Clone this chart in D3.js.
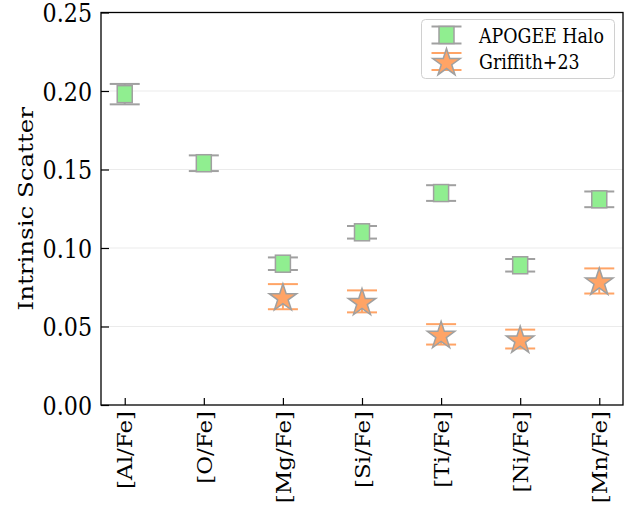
<!DOCTYPE html>
<html>
<head>
<meta charset="utf-8">
<script src="https://cdn.jsdelivr.net/npm/d3@7"></script>
<style>
  html, body { margin: 0; padding: 0; background: #fff; }
  svg { display: block; }
  text { font-family: "DejaVu Serif", serif; fill: #000; }
</style>
</head>
<body>
<svg id="chart" width="633" height="505"></svg>
<script>
// Abundance ratios along the x axis
const categories = ["[Al/Fe]", "[O/Fe]", "[Mg/Fe]", "[Si/Fe]", "[Ti/Fe]", "[Ni/Fe]", "[Mn/Fe]"];

// APOGEE halo intrinsic scatter and its uncertainty
const apogeeScatter = [0.198, 0.154, 0.090, 0.110, 0.135, 0.089, 0.131];
const apogeeErr     = [0.0065, 0.005, 0.004, 0.004, 0.005, 0.004, 0.005];

// Griffith+23 values (no Al or O measurements)
const griffithScatter = [null, null, 0.069, 0.066, 0.045, 0.042, 0.079];
const griffithErr     = [null, null, 0.008, 0.007, 0.0065, 0.006, 0.008];

const yTicks = [0.00, 0.05, 0.10, 0.15, 0.20, 0.25];
const seriesNames = ["APOGEE Halo", "Griffith+23"];

const svg = d3.select("#chart");
const m = { left: 101, right: 623, top: 12.5, bottom: 405 };
const sx = 0.87; // horizontal compression applied to all text

const x = d3.scaleLinear().domain([-0.3, categories.length - 0.7]).range([m.left, m.right]);
const y = d3.scaleLinear().domain([0, 0.25]).range([m.bottom, m.top]);

// horizontal grid
svg.append("g").selectAll("line").data(yTicks.slice(1, -1)).join("line")
  .attr("x1", m.left).attr("x2", m.right)
  .attr("y1", d => y(d)).attr("y2", d => y(d))
  .attr("stroke", "#ebebeb").attr("stroke-width", 1);

// axes with inward ticks
const yAxis = d3.axisLeft(y).tickValues(yTicks).tickFormat(d3.format(".2f"))
  .tickSizeInner(-8).tickSizeOuter(0).tickPadding(9);
const gy = svg.append("g").attr("transform", `translate(${m.left},0)`).call(yAxis);
gy.select(".domain").remove();
gy.selectAll("line").attr("stroke", "#000").attr("stroke-width", 1.2);
gy.selectAll("text").style("font-size", "25.5px").attr("font-family", "DejaVu Serif")
  .attr("x", 0).attr("dy", "0.36em")
  .attr("transform", `translate(-9,0) scale(${sx},1)`);

const xAxis = d3.axisBottom(x).tickValues(d3.range(categories.length))
  .tickFormat(i => categories[i]).tickSizeInner(-7).tickSizeOuter(0).tickPadding(0);
const gx = svg.append("g").attr("transform", `translate(0,${m.bottom})`).call(xAxis);
gx.select(".domain").remove();
gx.selectAll("line").attr("stroke", "#000").attr("stroke-width", 1.2);
gx.selectAll("text")
  .style("font-size", "23px").attr("font-family", "DejaVu Serif")
  .attr("text-anchor", "end").attr("dy", "0.36em")
  .attr("transform", `translate(0,6) scale(${sx},1) rotate(-90)`)
  .attr("x", 0).attr("y", 0);

// frame
svg.append("rect").attr("x", m.left).attr("y", m.top)
  .attr("width", m.right - m.left).attr("height", m.bottom - m.top)
  .attr("fill", "none").attr("stroke", "#000").attr("stroke-width", 1.3);

// y label
svg.append("text").attr("transform", `translate(33,${(m.top + m.bottom) / 2}) scale(${sx},1) rotate(-90)`)
  .attr("text-anchor", "middle").style("font-size", "24.5px").text("Intrinsic Scatter");

const grey = "#a0a0a0";
const orange = "#ffa466";
const green = "#90ee90";
const starPath = d3.symbol(d3.symbolStar, 236)();

function errBars(g, vals, errs, color, capHalf, w) {
  const pts = vals.map((v, i) => ({ i, v, e: errs[i] })).filter(d => d.v != null);
  const sel = g.selectAll("g.eb").data(pts).join("g").attr("class", "eb");
  sel.append("line").attr("x1", d => x(d.i)).attr("x2", d => x(d.i))
    .attr("y1", d => y(d.v - d.e)).attr("y2", d => y(d.v + d.e))
    .attr("stroke", color).attr("stroke-width", w);
  [-1, 1].forEach(s => sel.append("line")
    .attr("x1", d => x(d.i) - capHalf).attr("x2", d => x(d.i) + capHalf)
    .attr("y1", d => y(d.v + s * d.e)).attr("y2", d => y(d.v + s * d.e))
    .attr("stroke", color).attr("stroke-width", w));
}

// APOGEE
const gA = svg.append("g");
errBars(gA, apogeeScatter, apogeeErr, grey, 15, 2);
gA.selectAll("rect.sq").data(apogeeScatter.map((v, i) => ({ i, v }))).join("rect")
  .attr("class", "sq")
  .attr("x", d => x(d.i) - 7.5).attr("y", d => y(d.v) - 8.5)
  .attr("width", 15).attr("height", 17)
  .attr("fill", green).attr("stroke", grey).attr("stroke-width", 1.5);

// Griffith+23
const gG = svg.append("g");
errBars(gG, griffithScatter, griffithErr, orange, 15, 2);
gG.selectAll("path.st").data(griffithScatter.map((v, i) => ({ i, v })).filter(d => d.v != null)).join("path")
  .attr("class", "st").attr("d", starPath)
  .attr("transform", d => `translate(${x(d.i)},${y(d.v) + 1.5})`)
  .attr("fill", orange).attr("stroke", grey).attr("stroke-width", 1.5);

// legend
const lg = svg.append("g");
lg.append("rect").attr("x", 421.5).attr("y", 19.5).attr("width", 193).attr("height", 59)
  .attr("rx", 4).attr("fill", "#fff").attr("fill-opacity", 0.8)
  .attr("stroke", "#d0d0d0").attr("stroke-width", 1);
const rows = [{ yy: 35, kind: "sq" }, { yy: 61.5, kind: "st" }];
rows.forEach((r, k) => {
  const cx = 446.5;
  const col = r.kind === "sq" ? grey : orange;
  [-8.5, 8.5].forEach(o => lg.append("line").attr("x1", cx - 15).attr("x2", cx + 15)
    .attr("y1", r.yy + o).attr("y2", r.yy + o).attr("stroke", col).attr("stroke-width", 2));
  lg.append("line").attr("x1", cx).attr("x2", cx).attr("y1", r.yy - 8.5).attr("y2", r.yy + 8.5)
    .attr("stroke", col).attr("stroke-width", 2);
  if (r.kind === "sq") {
    lg.append("rect").attr("x", cx - 7.5).attr("y", r.yy - 8.5).attr("width", 15).attr("height", 17)
      .attr("fill", green).attr("stroke", grey).attr("stroke-width", 1.5);
  } else {
    lg.append("path").attr("d", starPath).attr("transform", `translate(${cx},${r.yy + 1.5})`)
      .attr("fill", orange).attr("stroke", grey).attr("stroke-width", 1.5);
  }
  lg.append("text").attr("transform", `translate(479,${r.yy + 0.5}) scale(${sx},1)`)
    .attr("dy", "0.36em").style("font-size", "20px").text(seriesNames[k]);
});
</script>
</body>
</html>
